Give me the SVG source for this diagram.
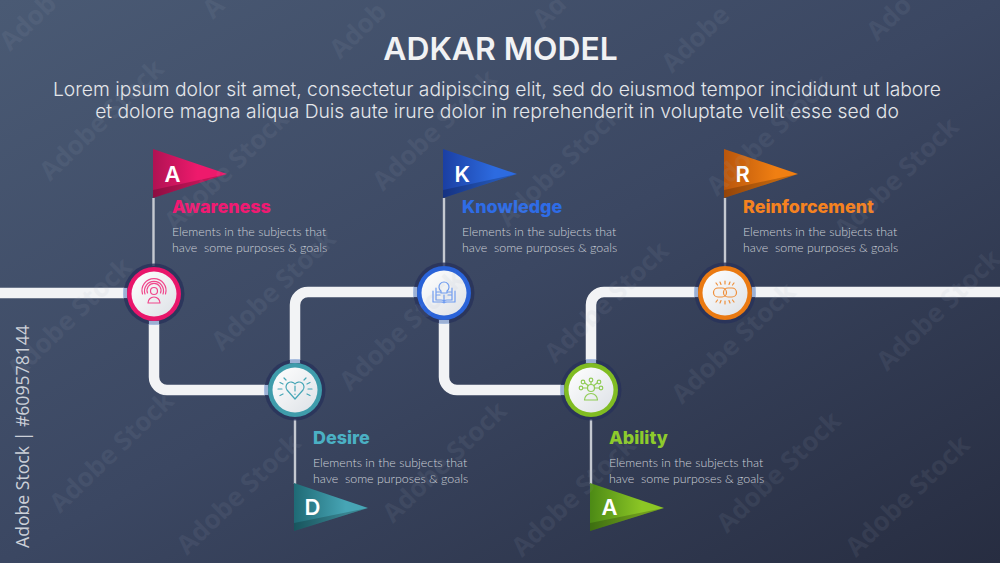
<svg xmlns="http://www.w3.org/2000/svg" width="1000" height="563" viewBox="0 0 1000 563">
<style>
.wm{font:700 26px "Open Sans",sans-serif;fill:#a3acbd;opacity:.09}
.side{font:400 18.2px "Open Sans",sans-serif;fill:#ccd0d8}
.h1{font:600 31.800px Inter,sans-serif;fill:#f1f2f4;text-anchor:middle}
.sub{font:300 19.300px Inter,sans-serif;fill:#e4e6ea;text-anchor:middle}
.t{font:800 17.900px Inter,"Open Sans",sans-serif}
.b{font:300 12.400px Lato,sans-serif;fill:#ccd0d7;white-space:pre}
.l{font:600 22px Inter,sans-serif;fill:#fff}
.track{fill:none;stroke:#f2f3f5;stroke-width:10.5}
.pole{stroke:#c5c9d1;stroke-width:2.4}
.halo{fill:#28325a;opacity:.8}
.glow{fill:#a9bfe4;opacity:.85}
.ic{fill:none;stroke-width:1.2;stroke-linecap:round;stroke-linejoin:round}
.fold{fill:#000;opacity:.2}
</style>
<defs>
<linearGradient id="bg" x1="0" y1="0" x2="1" y2="1"><stop offset="0" stop-color="#4a5a74"/><stop offset=".5" stop-color="#3b4762"/><stop offset="1" stop-color="#272d41"/></linearGradient>
<linearGradient id="disc" x1="0" y1="0" x2="1" y2="1"><stop offset="0" stop-color="#fff"/><stop offset="1" stop-color="#dde1e6"/></linearGradient>
<linearGradient id="fa" x1="0" x2="1" y1="0" y2="0"><stop offset="0" stop-color="#b01253"/><stop offset=".6" stop-color="#ee1a6c"/></linearGradient>
<linearGradient id="fd" x1="0" x2="1" y1="0" y2="0"><stop offset="0" stop-color="#1f6a75"/><stop offset=".7" stop-color="#47a5b5"/></linearGradient>
<linearGradient id="fk" x1="0" x2="1" y1="0" y2="0"><stop offset="0" stop-color="#1b3fa3"/><stop offset=".7" stop-color="#2d6be0"/></linearGradient>
<linearGradient id="fb" x1="0" x2="1" y1="0" y2="0"><stop offset="0" stop-color="#4c8a15"/><stop offset=".7" stop-color="#8cc625"/></linearGradient>
<linearGradient id="fr" x1="0" x2="1" y1="0" y2="0"><stop offset="0" stop-color="#b9560c"/><stop offset=".7" stop-color="#f07f12"/></linearGradient>
</defs>
<rect width="1000" height="563" fill="url(#bg)"/>
<text class="side" transform="translate(29 548) rotate(-90)" textLength="223" lengthAdjust="spacingAndGlyphs">Adobe Stock | #609578144</text>
<text class="h1" x="500.500" y="60">ADKAR MODEL</text>
<text class="sub" x="497" y="96">Lorem ipsum dolor sit amet, consectetur adipiscing elit, sed do eiusmod tempor incididunt ut labore</text>
<text class="sub" x="497" y="118">et dolore magna aliqua Duis aute irure dolor in reprehenderit in voluptate velit esse sed do</text>
<g id="connectors">
<path class="track" d="M0 293H154V377A13 13 0 0 0 167 390H295V305A13 13 0 0 1 308 292H444V377A13 13 0 0 0 457 390H591V305A13 13 0 0 1 604 292H1000"/>
<path class="pole" d="M153.500 198V266M295 419V484M444 198V266M591 419V484M725 198V266"/>
</g>
<g id="node-awareness">
<circle class="halo" cx="154" cy="294" r="30.500"/>
<rect class="glow" x="123" y="288" width="4" height="10"/><rect class="glow" x="149" y="321" width="10" height="4"/>
<circle cx="154" cy="294" r="27" fill="#e9166b"/><circle cx="154" cy="294" r="22.500" fill="url(#disc)"/>
<g class="ic" stroke="#f0478c"><circle cx="154" cy="291" r="3.500"/><path d="M145 294a9.500 9.500 0 1 1 18 0M142.500 294a12 12 0 1 1 23 0M147.500 293a7 7 0 1 1 13 0M148 303a6 6 0 0 1 12 0z"/></g>
<path d="M153 149L227 174L153 198z" fill="url(#fa)"/><path class="fold" d="M153 198L227 174L153 190z"/>
<text class="l" x="164.500" y="182">A</text>
<text class="t" x="172" y="213" fill="#f01a72">Awareness</text>
<text class="b" x="172" y="236">Elements in the subjects that</text><text class="b" x="172" y="252">have  some purposes &amp; goals</text>
</g>
<g id="node-desire">
<circle class="halo" cx="295" cy="390" r="30.500"/>
<rect class="glow" x="264" y="385" width="4" height="10"/><rect class="glow" x="290" y="359" width="10" height="4"/>
<circle cx="295" cy="390" r="27" fill="#3f9cab"/><circle cx="295" cy="390" r="22.500" fill="url(#disc)"/>
<g class="ic" stroke="#46a6b6"><path d="M295 399L287 390A5 5 0 0 1 295 384A5 5 0 0 1 303 390zM295 386V391M295 394v.5M282 389h-4M308 389h4M283 384l-3-1.500M307 384l3-1.500M283 394l-3 1.500M307 394l3 1.500M286 380l-2-2M304 380l2-2"/></g>
<path d="M294 483L368 508L294 531z" fill="url(#fd)"/><path class="fold" d="M294 531L368 508L294 523z"/>
<text class="l" x="304.500" y="515">D</text>
<text class="t" x="313" y="444" fill="#4bb0c4">Desire</text>
<text class="b" x="313" y="467">Elements in the subjects that</text><text class="b" x="313" y="483">have  some purposes &amp; goals</text>
</g>
<g id="node-knowledge">
<circle class="halo" cx="444" cy="293" r="30.500"/>
<rect class="glow" x="413" y="287" width="4" height="10"/><rect class="glow" x="439" y="320" width="10" height="4"/>
<circle cx="444" cy="293" r="27" fill="#2a63d8"/><circle cx="444" cy="293" r="22.500" fill="url(#disc)"/>
<g class="ic" stroke="#6f9cf0"><path d="M441 293v-2a5 5 0 1 1 6 0v2zM433 291v11h22v-11M433 302h8q3 0 3 1q0-1 3-1h8M436 288v12h5q2 0 3 1q1-1 3-1h5v-12M444 295v6M437 292h3M437 295h3M448 292h3M448 295h3"/></g>
<path d="M443 149L517 174L443 198z" fill="url(#fk)"/><path class="fold" d="M443 198L517 174L443 190z"/>
<text class="l" x="454.500" y="182">K</text>
<text class="t" x="462" y="213" fill="#2e6ce6">Knowledge</text>
<text class="b" x="462" y="236">Elements in the subjects that</text><text class="b" x="462" y="252">have  some purposes &amp; goals</text>
</g>
<g id="node-ability">
<circle class="halo" cx="591" cy="390" r="30.500"/>
<rect class="glow" x="560" y="385" width="4" height="10"/><rect class="glow" x="586" y="359" width="10" height="4"/>
<circle cx="591" cy="390" r="27" fill="#80bc22"/><circle cx="591" cy="390" r="22.500" fill="url(#disc)"/>
<g class="ic" stroke="#90cc55"><circle cx="591" cy="388" r="3.500"/><path d="M584.500 400a6.500 6.500 0 0 1 13 0zM591 384.500V382M588 385.500l-3-2.500M594 385.500l3-2.500M587.500 388h-5M594.500 388h5"/><circle cx="591" cy="380" r="1.800"/><circle cx="583" cy="382" r="1.800"/><circle cx="599" cy="382" r="1.800"/><circle cx="581" cy="388" r="1.800"/><circle cx="601" cy="388" r="1.800"/></g>
<path d="M590 483L664 508L590 531z" fill="url(#fb)"/><path class="fold" d="M590 531L664 508L590 523z"/>
<text class="l" x="601.500" y="515">A</text>
<text class="t" x="609" y="444" fill="#8ecb2c">Ability</text>
<text class="b" x="609" y="467">Elements in the subjects that</text><text class="b" x="609" y="483">have  some purposes &amp; goals</text>
</g>
<g id="node-reinforcement">
<circle class="halo" cx="725" cy="293" r="30.500"/>
<rect class="glow" x="694" y="287" width="4" height="10"/><rect class="glow" x="752" y="287" width="4" height="10"/>
<circle cx="725" cy="293" r="27" fill="#ea7a12"/><circle cx="725" cy="293" r="22.500" fill="url(#disc)"/>
<g class="ic" stroke="#ef8f3a" stroke-width="1.500"><rect x="713.500" y="288" width="13" height="9" rx="4.500"/><rect x="723.500" y="288" width="13" height="9" rx="4.500"/><path d="M725 281v3M720 282l1 2.500M730 282l-1 2.500M716 283l1.500 2M734 283l-1.500 2M725 301v3M720 303l1-2.500M730 303l-1-2.500M716 302l1.500-2M734 302l-1.500-2"/></g>
<path d="M724 149L798 174L724 198z" fill="url(#fr)"/><path class="fold" d="M724 198L798 174L724 190z"/>
<text class="l" x="735.500" y="182">R</text>
<text class="t" x="743" y="213" fill="#f58220">Reinforcement</text>
<text class="b" x="743" y="236">Elements in the subjects that</text><text class="b" x="743" y="252">have  some purposes &amp; goals</text>
</g>
<g id="watermarks">
<text class="wm" transform="translate(10 52) rotate(-44)">Adob</text>
<text class="wm" transform="translate(340 60) rotate(-44)">Adob</text>
<text class="wm" transform="translate(213 20) rotate(-44)">A</text>
<text class="wm" transform="translate(543 30) rotate(-44)">Ad</text>
<text class="wm" transform="translate(672 74) rotate(-44)">Adobe</text>
<text class="wm" transform="translate(877 42) rotate(-44)">Ado</text>
<text class="wm" transform="translate(50 182) rotate(-44)">Adobe Stock</text>
<text class="wm" transform="translate(383 192) rotate(-44)">Adobe Stock</text>
<text class="wm" transform="translate(175 232) rotate(-44)">Adobe Stock</text>
<text class="wm" transform="translate(508 228) rotate(-44)">Adobe Stock</text>
<text class="wm" transform="translate(717 197) rotate(-44)">Adobe Stock</text>
<text class="wm" transform="translate(845 240) rotate(-44)">Adobe Stock</text>
<text class="wm" transform="translate(18 380) rotate(-44)">Adobe Stock</text>
<text class="wm" transform="translate(222 352) rotate(-44)">Adobe Stock</text>
<text class="wm" transform="translate(350 392) rotate(-44)">Adobe Stock</text>
<text class="wm" transform="translate(555 364) rotate(-44)">Adobe Stock</text>
<text class="wm" transform="translate(682 405) rotate(-44)">Adobe Stock</text>
<text class="wm" transform="translate(887 372) rotate(-44)">Adobe Stock</text>
<text class="wm" transform="translate(60 514) rotate(-44)">Adobe Stock</text>
<text class="wm" transform="translate(393 524) rotate(-44)">Adobe Stock</text>
<text class="wm" transform="translate(187 556) rotate(-44)">Adobe Stock</text>
<text class="wm" transform="translate(522 558) rotate(-44)">Adobe Stock</text>
<text class="wm" transform="translate(727 534) rotate(-44)">Adobe Stock</text>
<text class="wm" transform="translate(856 558) rotate(-44)">Adobe Stock</text>
</g>
</svg>
